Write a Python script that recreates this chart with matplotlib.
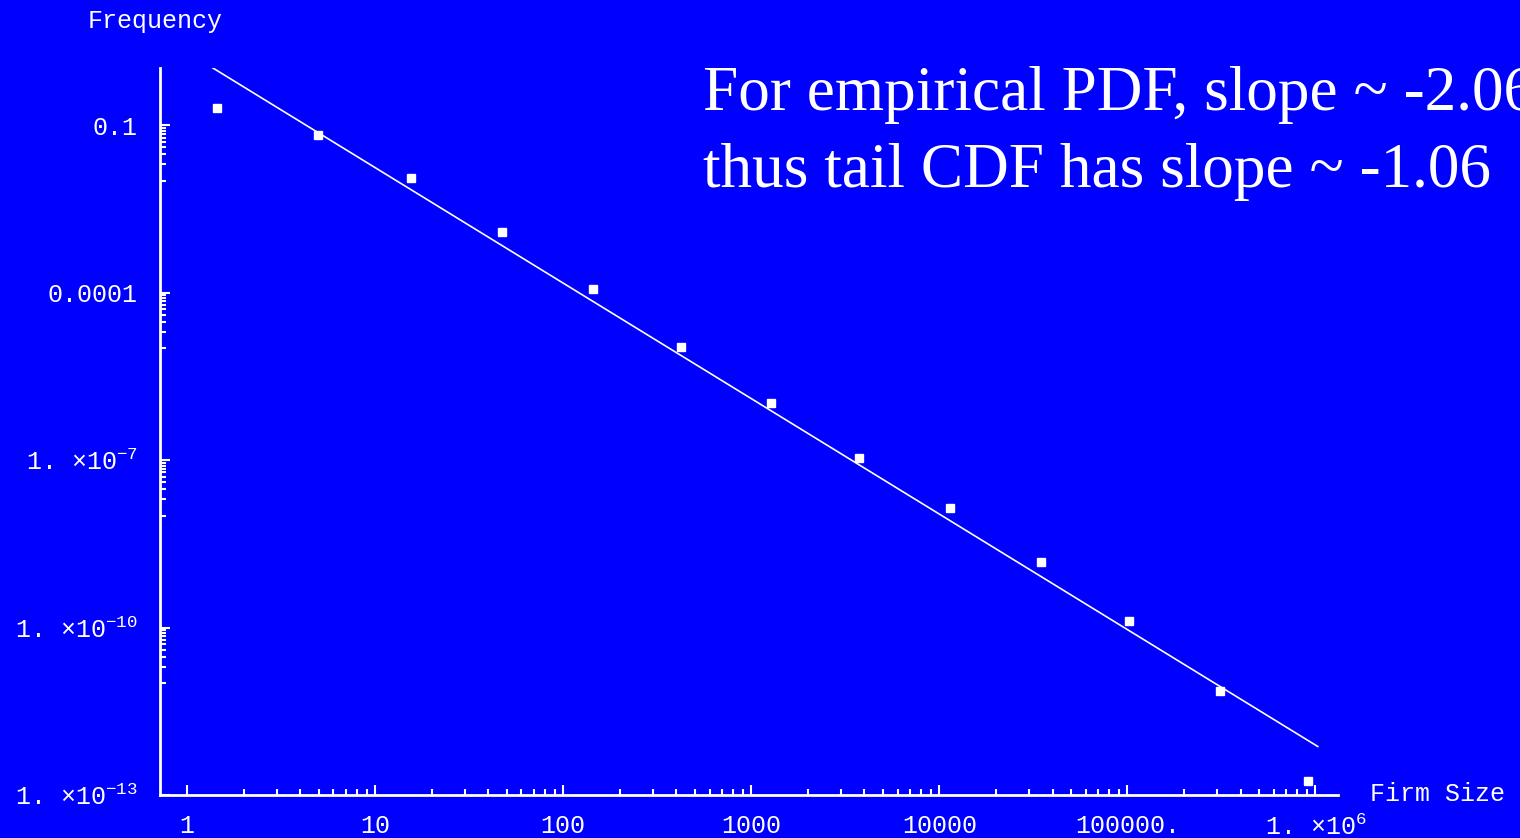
import numpy as np
import matplotlib
matplotlib.use("Agg")
import matplotlib.pyplot as plt
from matplotlib.ticker import FixedLocator, FixedFormatter

# empirical PDF points (firm size, frequency)
firm_size = [1.44, 4.97, 15.5, 47.4, 144, 424, 1277, 3750, 11450, 34900, 102600, 312600, 918000]
frequency = [0.202, 0.066, 0.0111, 0.00124, 1.17e-4, 1.06e-5, 1.04e-6, 1.11e-7,
             1.40e-8, 1.50e-9, 1.30e-10, 7.2e-12, 1.8e-13]

# fitted power law, end points of the straight line
fit_x = [1.37, 1.03e6]
fit_y = [1.06, 7.4e-13]

x_ticks = [1, 10, 100, 1000, 1e4, 1e5, 1e6]
x_labels = ["1", "10", "100", "1000", "10000", "100000.", "1. ×10$^{6}$"]
y_ticks = [0.1, 1e-4, 1e-7, 1e-10, 1e-13]
y_labels = ["0.1", "0.0001", "1. ×10$^{-7}$", "1. ×10$^{-10}$", "1. ×10$^{-13}$"]

note_lines = ["For empirical PDF, slope ~ -2.06", "thus tail CDF has slope ~ -1.06"]

blue = "#0000ff"
plt.rcParams["font.family"] = "Liberation Mono"
plt.rcParams["mathtext.fontset"] = "custom"
plt.rcParams["mathtext.rm"] = "Liberation Mono"
plt.rcParams["mathtext.it"] = "Liberation Mono"
plt.rcParams["mathtext.default"] = "rm"

fig = plt.figure(figsize=(15.2, 8.38), dpi=100, facecolor=blue)
ax = fig.add_axes([0.1053, 0.0513, 0.7750, 0.8676])
ax.set_facecolor(blue)

ax.plot(fit_x, fit_y, color="white", lw=1.2)
ax.plot(firm_size, frequency, "s", color="white", ms=6, mec="white")

ax.set_xscale("log")
ax.set_yscale("log")
ax.set_xlim(0.718, 1.32e6)
ax.set_ylim(1e-13, 1.06)

for s in ["top", "right"]:
    ax.spines[s].set_visible(False)
for s in ["left", "bottom"]:
    ax.spines[s].set_color("white")
    ax.spines[s].set_linewidth(2)

# minor ticks: every decade on x, only below the labelled decades on y
x_minor = [m * 10.0 ** d for d in range(0, 6) for m in range(2, 10)]
y_minor = [m * t / 10 for t in y_ticks[:-1] for m in range(1, 10)]

ax.xaxis.set_major_locator(FixedLocator(x_ticks))
ax.xaxis.set_major_formatter(FixedFormatter(x_labels))
ax.xaxis.set_minor_locator(FixedLocator(x_minor))
ax.xaxis.set_minor_formatter(FixedFormatter([]))
ax.yaxis.set_major_locator(FixedLocator(y_ticks))
ax.yaxis.set_major_formatter(FixedFormatter(y_labels))
ax.yaxis.set_minor_locator(FixedLocator(y_minor))
ax.yaxis.set_minor_formatter(FixedFormatter([]))

ax.tick_params(which="both", direction="in", colors="white", labelsize=18, width=1.5)
ax.tick_params(which="major", length=7)
ax.tick_params(which="minor", length=4)
ax.tick_params(axis="x", which="major", pad=14)
ax.tick_params(axis="y", which="major", pad=16)

fig.text(0.0575, 0.975, "Frequency", color="white", fontsize=18, va="center")
fig.text(0.901, 0.053, "Firm Size", color="white", fontsize=18, va="center")

fig.text(0.4625, 0.8687, note_lines[0], color="white", fontsize=45.5,
         family="Liberation Serif", va="baseline")
fig.text(0.4625, 0.7768, note_lines[1], color="white", fontsize=45.5,
         family="Liberation Serif", va="baseline")

fig.savefig("out.png", dpi=100, facecolor=blue)
